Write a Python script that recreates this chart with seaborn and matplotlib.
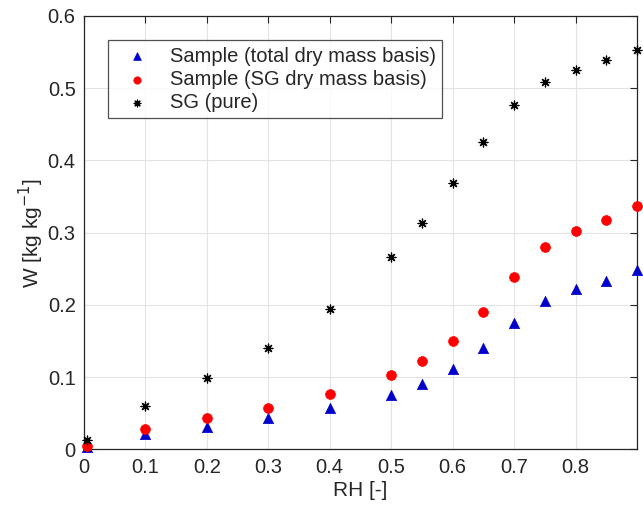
import matplotlib
matplotlib.use("Agg")
import matplotlib.pyplot as plt
import seaborn as sns
import pandas as pd

rh = [0.005, 0.1, 0.2, 0.3, 0.4, 0.5, 0.55, 0.6, 0.65, 0.7, 0.75, 0.8, 0.85, 0.9]
w_total = [0.003, 0.021, 0.031, 0.043, 0.057, 0.076, 0.090, 0.111, 0.141, 0.175, 0.206, 0.222, 0.233, 0.248]
w_sg = [0.005, 0.028, 0.043, 0.058, 0.077, 0.103, 0.122, 0.150, 0.190, 0.238, 0.280, 0.302, 0.318, 0.337]
w_pure = [0.013, 0.060, 0.099, 0.140, 0.194, 0.266, 0.313, 0.369, 0.426, 0.477, 0.509, 0.525, 0.539, 0.553]
labels = ["Sample (total dry mass basis)", "Sample (SG dry mass basis)", "SG (pure)"]
xticks = [0, 0.1, 0.2, 0.3, 0.4, 0.5, 0.6, 0.7, 0.8]
yticks = [0, 0.1, 0.2, 0.3, 0.4, 0.5, 0.6]

sns.set_theme(style="white")
plt.rcParams['font.family'] = ['Liberation Sans', 'DejaVu Sans']

df = pd.DataFrame({
    "RH": rh * 3,
    "W": w_total + w_sg + w_pure,
    "series": [labels[0]] * len(rh) + [labels[1]] * len(rh) + [labels[2]] * len(rh),
})

fig = plt.figure(figsize=(6.43, 5.09), dpi=100)
ax = fig.add_axes([0.1306, 0.117, 0.86, 0.852])

styles = [
    dict(marker="^", color="#0000CC", s=55, edgecolor="#0000CC", linewidth=0.5),
    dict(marker="o", color="#FF0000", s=50, edgecolor="#FF0000", linewidth=0.5),
    dict(marker=(8, 2, 0), color="black", s=40, edgecolor="black", linewidth=0.9),
]
for lab, st in zip(labels, styles):
    sub = df[df["series"] == lab]
    sns.scatterplot(data=sub, x="RH", y="W", ax=ax, label=lab, zorder=3, clip_on=False, **st)

ax.set_xlim(0, 0.9)
ax.set_ylim(0, 0.6)
ax.set_xticks(xticks)
ax.set_xticklabels(["0", "0.1", "0.2", "0.3", "0.4", "0.5", "0.6", "0.7", "0.8"])
ax.set_yticks(yticks)
ax.set_yticklabels(["0", "0.1", "0.2", "0.3", "0.4", "0.5", "0.6"])
ax.grid(True, color="#E3E3E3", linewidth=0.8)
ax.set_axisbelow(True)
for sp in ax.spines.values():
    sp.set_color("#262626")
    sp.set_linewidth(0.9)
ax.tick_params(direction="in", length=5, width=0.8, colors="#262626",
               top=True, right=True, labelsize=14.5, pad=6)
ax.set_xlabel("RH [-]", fontsize=15, color="#262626", labelpad=3)
ax.set_ylabel("W [kg kg$^{-1}$]", fontsize=15, color="#262626", labelpad=1)

leg = ax.legend(loc="upper left", bbox_to_anchor=(0.043, 0.943), fontsize=14.5,
                frameon=True, fancybox=False, edgecolor="#262626",
                borderpad=0.3, labelspacing=0.22, handlelength=2.3,
                handletextpad=0.5, markerscale=0.75, borderaxespad=0)
leg.get_frame().set_linewidth(0.9)

fig.savefig("out.png", dpi=100)
